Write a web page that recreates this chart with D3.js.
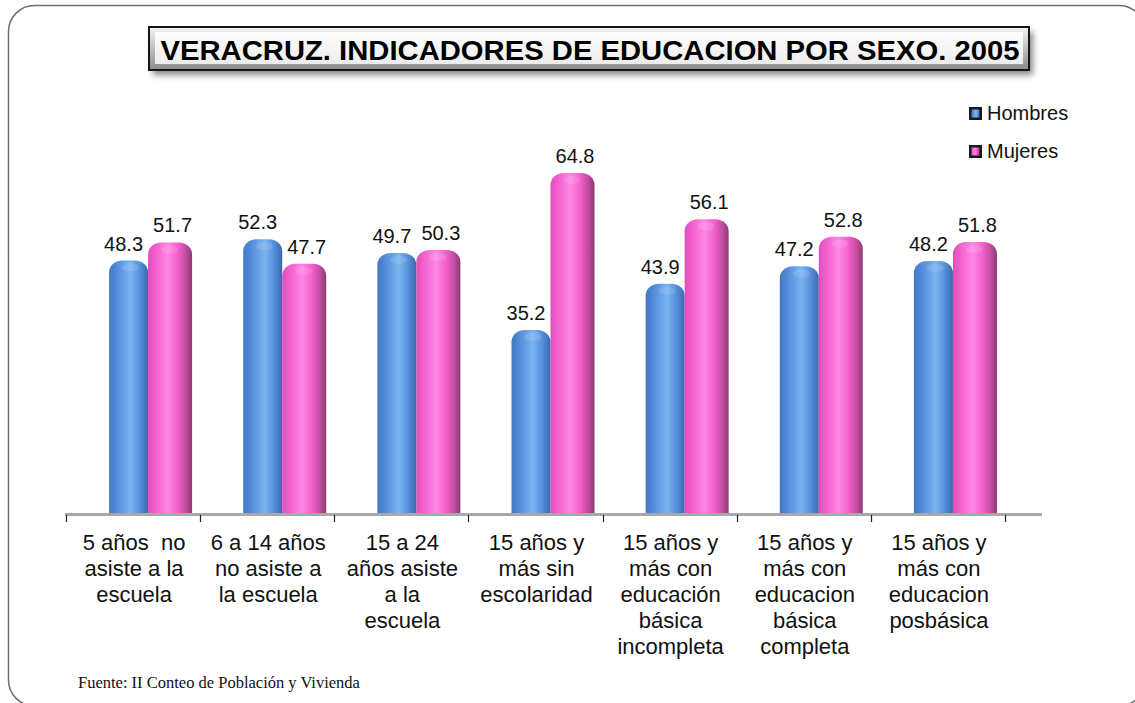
<!DOCTYPE html>
<html>
<head>
<meta charset="utf-8">
<script src="https://cdn.jsdelivr.net/npm/d3@7"></script>
<style>
  html, body { margin: 0; padding: 0; background: #ffffff; }
  svg { display: block; }
</style>
</head>
<body>
<script>
// ---------- DATA ----------
const categories = [
  "5 años  no asiste a la escuela",
  "6 a 14 años no asiste a la escuela",
  "15 a 24 años asiste a la escuela",
  "15 años y más sin escolaridad",
  "15 años y más con educación básica incompleta",
  "15 años y más con educacion básica completa",
  "15 años y más con educacion posbásica"
];
const categoryLines = [
  ["5 años  no", "asiste a la", "escuela"],
  ["6 a 14 años", "no asiste a", "la escuela"],
  ["15 a 24", "años asiste", "a la", "escuela"],
  ["15 años y", "más sin", "escolaridad"],
  ["15 años y", "más con", "educación", "básica", "incompleta"],
  ["15 años y", "más con", "educacion", "básica", "completa"],
  ["15 años y", "más con", "educacion", "posbásica"]
];
const seriesNames = ["Hombres", "Mujeres"];
const hombres = [48.3, 52.3, 49.7, 35.2, 43.9, 47.2, 48.2];
const mujeres = [51.7, 47.7, 50.3, 64.8, 56.1, 52.8, 51.8];
const titleText = "VERACRUZ. INDICADORES DE EDUCACION POR SEXO. 2005";
const sourceText = "Fuente: II Conteo de Población y Vivienda";

// ---------- SETUP ----------
const W = 1135, H = 703;
const svg = d3.select("body").append("svg")
  .attr("width", W).attr("height", H)
  .style("font-family", "'Liberation Sans', Arial, sans-serif");
const defs = svg.append("defs");

function hGrad(id, stops) {
  const g = defs.append("linearGradient").attr("id", id)
    .attr("x1", "0%").attr("x2", "100%").attr("y1", "0%").attr("y2", "0%");
  stops.forEach(s => g.append("stop").attr("offset", s[0]).attr("stop-color", s[1]));
}
hGrad("gBlue", [["0%", "#4478c4"], ["18%", "#5189d8"], ["55%", "#7cb3f1"], ["78%", "#5791dc"], ["100%", "#3b68ad"]]);
hGrad("gPink", [["0%", "#dc50b8"], ["14%", "#f25ccb"], ["45%", "#ff86e6"], ["68%", "#f260cb"], ["86%", "#c24c9e"], ["100%", "#8e3a74"]]);

const titleGrad = defs.append("linearGradient").attr("id", "gTitle")
  .attr("x1", "0%").attr("x2", "0%").attr("y1", "0%").attr("y2", "100%");
titleGrad.append("stop").attr("offset", "0%").attr("stop-color", "#f4f4f4");
titleGrad.append("stop").attr("offset", "100%").attr("stop-color", "#8a8a8a");
const titleInner = defs.append("linearGradient").attr("id", "gTitleIn")
  .attr("x1", "0%").attr("x2", "0%").attr("y1", "0%").attr("y2", "100%");
titleInner.append("stop").attr("offset", "0%").attr("stop-color", "#ffffff");
titleInner.append("stop").attr("offset", "100%").attr("stop-color", "#ececec");

const shadow = defs.append("filter").attr("id", "fShadow")
  .attr("x", "-5%").attr("y", "-30%").attr("width", "110%").attr("height", "170%");
shadow.append("feGaussianBlur").attr("stdDeviation", 3);

// ---------- FRAME ----------
svg.append("rect")
  .attr("x", 8.5).attr("y", 5.5).attr("width", 1136.5).attr("height", 700.5)
  .attr("rx", 26).attr("ry", 26)
  .attr("fill", "none").attr("stroke", "#6e6e6e").attr("stroke-width", 1.5);

// ---------- SCALES ----------
const x = d3.scaleBand().domain(categories).range([66, 1005]).padding(0);
const xs = d3.scaleBand().domain(seriesNames).range([-24, 54]).padding(0);
const y = d3.scaleLinear().domain([0, 70]).range([516.5, 516.5 - 70 * 5.3]);
const depth = 5;

// ---------- BARS ----------
function barPath(x0, w, yTop, yBase) {
  const r = Math.min(13, w / 2);
  const ry = 12;
  return `M${x0},${yBase} L${x0},${yTop + ry} A${r},${ry} 0 0 1 ${x0 + r},${yTop}` +
         ` L${x0 + w - r},${yTop} A${r},${ry} 0 0 1 ${x0 + w},${yTop + ry} L${x0 + w},${yBase} Z`;
}
const series = [
  { name: "Hombres", values: hombres, fill: "url(#gBlue)", extra: 0, labelDx: -5 },
  { name: "Mujeres", values: mujeres, fill: "url(#gPink)", extra: depth, labelDx: 5 }
];
const barsG = svg.append("g");
series.forEach(s => {
  categories.forEach((c, i) => {
    const cx = x(c) + x.bandwidth() / 2 + xs(s.name);
    const w = xs.bandwidth() + s.extra;
    const top = y(s.values[i]);
    barsG.append("path")
      .attr("d", barPath(cx, w, top, 514))
      .attr("fill", s.fill);
    barsG.append("ellipse")
      .attr("cx", cx + xs.bandwidth() * 0.55).attr("cy", top + 7)
      .attr("rx", xs.bandwidth() * 0.22).attr("ry", 4)
      .attr("fill", "#ffffff").attr("opacity", 0.12);
    svg.append("text")
      .attr("x", cx + xs.bandwidth() / 2 + s.labelDx)
      .attr("y", top - 10)
      .attr("text-anchor", "middle")
      .attr("font-size", 20)
      .attr("fill", "#111")
      .text(s.values[i].toFixed(1));
  });
});

// ---------- AXIS ----------
svg.append("line")
  .attr("x1", 65).attr("x2", 1042).attr("y1", 514.5).attr("y2", 514.5)
  .attr("stroke", "#a8a8a8").attr("stroke-width", 3);
const axisG = svg.append("g").attr("transform", "translate(0,515)");
const axis = d3.axisBottom(x).tickSize(0).tickFormat("");
axisG.call(axis);
axisG.select(".domain").remove();
const tickPos = categories.map(c => x(c)).concat([x.range()[1]]);
axisG.selectAll("line.sep").data(tickPos).enter().append("line")
  .attr("class", "sep")
  .attr("x1", d => Math.round(d) + 0.5).attr("x2", d => Math.round(d) + 0.5)
  .attr("y1", 0).attr("y2", 7)
  .attr("stroke", "#222").attr("stroke-width", 1.2);

const labG = svg.append("g");
categories.forEach((c, i) => {
  const t = labG.append("text")
    .attr("x", x(c) + x.bandwidth() / 2 + 1)
    .attr("y", 550)
    .attr("text-anchor", "middle")
    .attr("font-size", 22)
    .attr("fill", "#111")
    .style("white-space", "pre");
  categoryLines[i].forEach((ln, j) => {
    t.append("tspan")
      .attr("x", x(c) + x.bandwidth() / 2 + 1)
      .attr("dy", j === 0 ? 0 : 26)
      .text(ln);
  });
});

// ---------- TITLE ----------
const tb = { x: 149, y: 27, w: 880, h: 43 };
svg.append("rect")
  .attr("x", tb.x + 4).attr("y", tb.y + 5).attr("width", tb.w).attr("height", tb.h)
  .attr("fill", "#555").attr("opacity", 0.7).attr("filter", "url(#fShadow)");
svg.append("rect")
  .attr("x", tb.x).attr("y", tb.y).attr("width", tb.w).attr("height", tb.h)
  .attr("fill", "url(#gTitle)").attr("stroke", "#151515").attr("stroke-width", 2);
svg.append("rect")
  .attr("x", tb.x + 6).attr("y", tb.y + 5).attr("width", tb.w - 12).attr("height", tb.h - 11)
  .attr("fill", "url(#gTitleIn)");
svg.append("text")
  .attr("x", tb.x + tb.w / 2 + 1).attr("y", 60)
  .attr("text-anchor", "middle")
  .attr("font-size", 27).attr("font-weight", "bold")
  .attr("textLength", 859).attr("lengthAdjust", "spacingAndGlyphs")
  .attr("fill", "#000")
  .text(titleText);

// ---------- LEGEND ----------
const legend = svg.append("g");
series.forEach((s, i) => {
  const ly = 107 + i * 38;
  legend.append("rect")
    .attr("x", 969).attr("y", ly).attr("width", 13).attr("height", 13)
    .attr("fill", "#1a1a1a");
  legend.append("rect")
    .attr("x", 971.5).attr("y", ly + 2.5).attr("width", 8).attr("height", 8)
    .attr("fill", s.fill);
  legend.append("text")
    .attr("x", 987).attr("y", ly + 13)
    .attr("font-size", 20).attr("fill", "#111")
    .text(s.name);
});

// ---------- SOURCE ----------
svg.append("text")
  .attr("x", 78).attr("y", 688)
  .attr("font-family", "'Liberation Serif', 'Times New Roman', serif")
  .attr("font-size", 16.5)
  .attr("fill", "#111")
  .text(sourceText);
</script>
</body>
</html>
